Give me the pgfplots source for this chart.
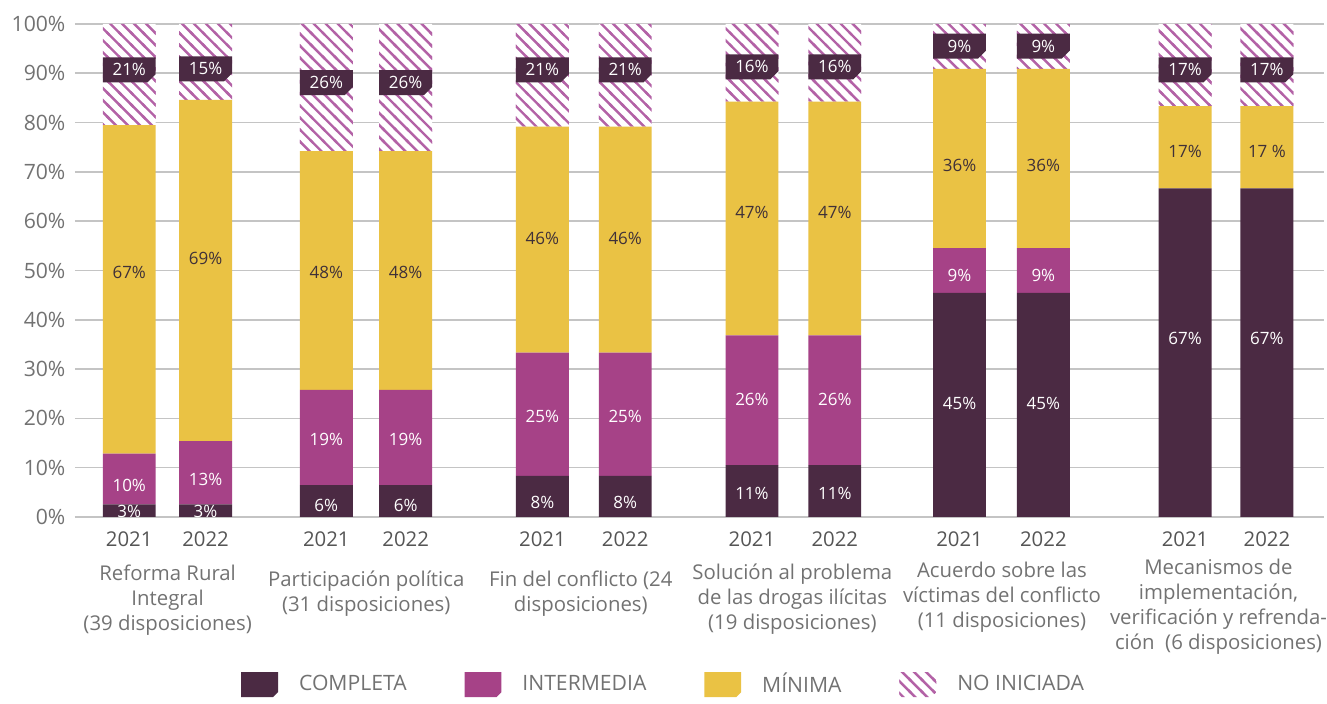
\documentclass[border=0pt]{standalone}
\usepackage{pgfplots}
\usepackage{pgfplotstable}
\pgfplotsset{compat=1.18}
\usetikzlibrary{patterns,shapes.misc}
\usepackage{fontspec}
\setmainfont{Open Sans}
\definecolor{comp}{HTML}{4B2A43}
\definecolor{inter}{HTML}{A64287}
\definecolor{mini}{HTML}{EAC244}
\definecolor{hatch}{HTML}{B362A6}
\definecolor{txt}{HTML}{727272}
\definecolor{yearc}{HTML}{555555}
\definecolor{darktxt}{HTML}{3F3038}
\definecolor{gridc}{HTML}{C4C4C4}

\pgfdeclarepatternformonly{mylines}{\pgfqpoint{-1pt}{-1pt}}{\pgfqpoint{7pt}{7pt}}{\pgfqpoint{6pt}{6pt}}{
  \pgfsetlinewidth{1.2pt}
  \pgfpathmoveto{\pgfqpoint{-1pt}{7pt}}
  \pgfpathlineto{\pgfqpoint{7pt}{-1pt}}
  \pgfusepath{stroke}
}

\pgfplotstableread{
x comp inter mini noin
129.5 2.56 10.26 66.67 20.51
206 2.56 12.82 69.23 15.39
327 6.45 19.35 48.39 25.81
406.5 6.45 19.35 48.39 25.81
543.5 8.33 25.00 45.83 20.84
626.5 8.33 25.00 45.83 20.84
753.5 10.53 26.32 47.37 15.78
836.5 10.53 26.32 47.37 15.78
961.5 45.45 9.09 36.36 9.10
1045.5 45.45 9.09 36.36 9.10
1187.5 66.67 0 16.67 16.66
1269.5 66.67 0 16.67 16.66
}\barsdata

\pgfplotstableread{
x y l
129.5 1.2 3
206 1.2 3
327 2.4 6
406.5 2.4 6
543.5 3.0 8
626.5 3.0 8
753.5 4.7 11
836.5 4.7 11
961.5 23.1 45
1045.5 23.1 45
1187.5 36.2 67
1269.5 36.2 67
}\lcomp

\pgfplotstableread{
x y l
129.5 6.3 10
206 7.7 13
327 15.8 19
406.5 15.8 19
543.5 20.4 25
626.5 20.4 25
753.5 23.9 26
836.5 23.9 26
961.5 49.0 9
1045.5 49.0 9
}\linter

\pgfplotstableread{
x y l
129.5 49.6 67
206 52.4 69
327 49.6 48
406.5 49.6 48
543.5 56.5 46
626.5 56.5 46
753.5 61.7 47
836.5 61.7 47
961.5 71.3 36
1045.5 71.3 36
1187.5 74.1 17
}\lmini

\pgfplotstableread{
x y l
129.5 90.7 21
206 90.9 15
327 88.1 26
406.5 88.1 26
543.5 90.7 21
626.5 90.7 21
753.5 91.3 16
836.5 91.3 16
961.5 95.5 9
1045.5 95.5 9
1187.5 90.7 17
1269.5 90.7 17
}\lnoin

\pgfplotsset{
  common/.style={
    scale only axis, width=626pt, height=247pt,
    xmin=75, xmax=1327, ymin=0, ymax=100, clip=false,
  },
}

\begin{document}
\begin{tikzpicture}
\begin{axis}[
  common,
  ybar stacked, bar width=53,
  axis x line*=bottom, axis y line*=left,
  y axis line style={draw=none},
  x axis line style={draw=gridc, line width=1.1pt},
  ytick={0,10,...,100},
  /pgf/number format/assume math mode=true,
  yticklabel={\pgfmathprintnumber{\tick}\%},
  ymajorgrids, grid style={draw=gridc, line width=0.8pt},
  ytick style={draw=none},
  xtick={129.5,206,327,406.5,543.5,626.5,753.5,836.5,961.5,1045.5,1187.5,1269.5},
  xticklabels={2021,2022,2021,2022,2021,2022,2021,2022,2021,2022,2021,2022},
  xtick style={draw=none}, major tick length=0pt,
  extra x ticks={75,262,476,688,901,1113},
  extra x tick labels={},
  extra x tick style={grid=none, major tick length=68.5pt, tick align=outside,
    tick style={draw=gridc, line width=1pt}},
  yticklabel style={font=\fontsize{10.6}{12}\selectfont, text=txt, xshift=-1.2pt},
  xticklabel style={font=\fontsize{10.2}{12}\selectfont, text=yearc, yshift=-4pt},
  legend columns=4,
  legend style={at={(0.472,0)}, anchor=center, yshift=-84pt, draw=none, fill=none,
    font=\fontsize{10.6}{12}\selectfont, text=txt,
    /tikz/every odd column/.append style={column sep=8.5pt},
    /tikz/every even column/.append style={column sep=27pt}},
  legend image code/.code={\path[#1] (0pt,-6.25pt) -- (16pt,-6.25pt) -- (18.5pt,-3.75pt) -- (18.5pt,6.25pt) -- (0pt,6.25pt) -- cycle;},
]
\addplot[fill=comp, draw=none] table[x=x,y=comp]{\barsdata};
\addlegendentry{COMPLETA}
\addplot[fill=inter, draw=none] table[x=x,y=inter]{\barsdata};
\addlegendentry{INTERMEDIA}
\addplot[fill=mini, draw=none] table[x=x,y=mini]{\barsdata};
\addlegendentry{MÍNIMA}
\addplot[fill=white, draw=none, postaction={pattern=mylines, pattern color=hatch}] table[x=x,y=noin]{\barsdata};
\addlegendentry{NO INICIADA}

\node[anchor=north, align=center, inner sep=0pt, font=\fontsize{10.2}{12.5}\selectfont, text=txt, yshift=-24pt] at (axis cs:168,0) {Reforma Rural\\Integral\\(39 disposiciones)};
\node[anchor=north, align=center, inner sep=0pt, font=\fontsize{10.2}{12.5}\selectfont, text=txt, yshift=-27pt] at (axis cs:367,0) {Participación política\\(31 disposiciones)};
\node[anchor=north, align=center, inner sep=0pt, font=\fontsize{10.2}{12.5}\selectfont, text=txt, yshift=-27pt] at (axis cs:582,0) {Fin del conflicto (24\\disposiciones)};
\node[anchor=north, align=center, inner sep=0pt, font=\fontsize{10.2}{12.5}\selectfont, text=txt, yshift=-23.5pt] at (axis cs:794,0) {Solución al problema\\de las drogas ilícitas\\(19 disposiciones)};
\node[anchor=north, align=center, inner sep=0pt, font=\fontsize{10.2}{12.5}\selectfont, text=txt, yshift=-22.5pt] at (axis cs:1004,0) {Acuerdo sobre las\\víctimas del conflicto\\(11 disposiciones)};
\node[anchor=north, align=center, inner sep=0pt, font=\fontsize{10.2}{12.5}\selectfont, text=txt, yshift=-21pt] at (axis cs:1221,0) {Mecanismos de\\implementación,\\verificación y refrenda-\\ción~~(6 disposiciones)};
\end{axis}

\begin{axis}[
  common, hide axis,
  nodes near coords={\pgfplotspointmeta\%},
  point meta=explicit symbolic,
  every node near coord/.append style={anchor=center, font=\fontsize{8.5}{10}\selectfont, inner sep=0pt},
]
\addplot[draw=none, mark=none, every node near coord/.append style={text=white}] table[x=x,y=y,meta=l]{\lcomp};
\addplot[draw=none, mark=none, every node near coord/.append style={text=white}] table[x=x,y=y,meta=l]{\linter};
\addplot[draw=none, mark=none, every node near coord/.append style={text=darktxt}] table[x=x,y=y,meta=l]{\lmini};
\addplot[draw=none, mark=none, nodes near coords={17 \%}, every node near coord/.append style={text=darktxt}] coordinates {(1269.5,74.1) [17]};
\addplot[draw=none, mark=none, every node near coord/.append style={text=white, fill=comp,
   chamfered rectangle, chamfered rectangle corners=south east, chamfered rectangle xsep=2pt,
   chamfered rectangle ysep=2pt, minimum width=26.5pt, minimum height=12.5pt}] table[x=x,y=y,meta=l]{\lnoin};
\end{axis}
\path (-37.5pt,-90pt) rectangle (626pt,259pt);
\end{tikzpicture}
\end{document}
